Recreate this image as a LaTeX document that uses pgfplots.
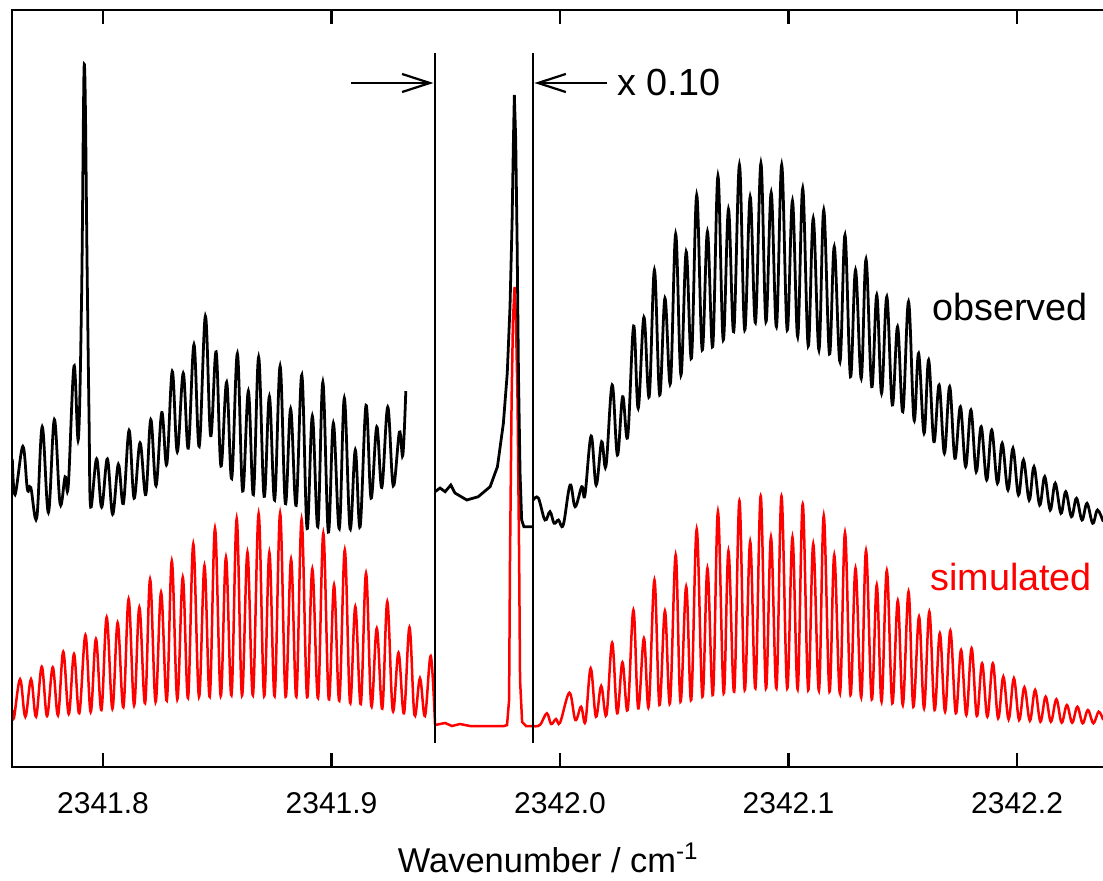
\documentclass[border=0pt]{standalone}
\usepackage{pgfplots}
\pgfplotsset{compat=1.18}
\usepackage{fontspec}
\setmainfont{Liberation Sans}
\usetikzlibrary{arrows.meta}

\begin{document}
\begin{tikzpicture}
% x = wavenumber - 2341 cm^-1 (offset kept out of the data for TeX's precision)
\begin{axis}[
    scale only axis,
    width=392.65pt, height=272.52pt,
    xmin=0.7603, xmax=1.2376,
    ymin=0, ymax=757,
    axis line style={draw=none},
    xtick={0.8,0.9,1.0,1.1,1.2},
    xticklabels={2341.8,2341.9,2342.0,2342.1,2342.2},
    ytick=\empty,
    tick align=inside,
    major tick length=5pt,
    every tick/.style={black, line width=0.8pt},
    xticklabel style={font=\fontsize{10.8}{12}\selectfont, anchor=base, yshift=-16.6pt},
    xlabel={Wavenumber / cm\textsuperscript{-1}},
    xlabel style={font=\fontsize{12.4}{14}\selectfont, at={(axis description cs:0.4916,0)}, anchor=base, yshift=-37.8pt},
]

% simulated, left band
\addplot[red, line width=0.9pt, smooth, tension=0.6] coordinates {
(0.7603,57.0) (0.7610,48.7) (0.7637,87.7) (0.7660,50.3) (0.7685,87.7) (0.7707,50.3)
(0.7732,100.3) (0.7755,51) (0.7780,99.7) (0.7803,51.7) (0.7826,115.3) (0.7850,53)
(0.7873,113) (0.7896,53.7) (0.7923,132) (0.7946,55) (0.7969,128) (0.7993,57)
(0.8016,149.7) (0.8041,58.3) (0.8064,144.3) (0.8089,59.7) (0.8112,168) (0.8136,61.7)
(0.8159,159.7) (0.8184,63.7) (0.8206,187.7) (0.8230,65) (0.8254,174.7) (0.8279,66.3)
(0.8301,206) (0.8325,67.7) (0.8349,189.7) (0.8372,69) (0.8395,223) (0.8420,70.3)
(0.8444,201.3) (0.8467,70.3) (0.8490,238.7) (0.8515,71) (0.8538,209.7) (0.8562,71.7)
(0.8585,248.3) (0.8608,71.7) (0.8632,214.7) (0.8656,71.7) (0.8681,253.3) (0.8705,71)
(0.8728,214.7) (0.8751,71) (0.8775,253.7) (0.8799,70.3) (0.8823,207.7) (0.8846,70.3)
(0.8869,247.7) (0.8893,69.7) (0.8916,198) (0.8941,69) (0.8964,233.7) (0.8988,67.7)
(0.9011,182) (0.9034,66.3) (0.9058,217) (0.9081,64.3) (0.9104,160.3) (0.9128,63)
(0.9151,193.7) (0.9174,61) (0.9198,138.7) (0.9222,58.3) (0.9244,165.3) (0.9268,56.3)
(0.9293,114.3) (0.9317,53.7) (0.9341,139.7) (0.9363,52) (0.9387,88.7) (0.9409,51)
(0.9434,111) (0.9453,42)
};
% simulated, central line
\addplot[red, line width=0.9pt] coordinates {
(0.9453,42) (0.9497,44) (0.9527,41) (0.9562,43) (0.9606,41) (0.9694,41) (0.9755,41)
(0.9768,42) (0.9777,67) (0.9781,207) (0.9788,367) (0.9794,447) (0.9801,480)
(0.9807,447) (0.9814,367) (0.9821,207) (0.9825,87) (0.9834,45) (0.9851,41) (0.9881,41)
};
% simulated, right band
\addplot[red, line width=0.9pt, smooth, tension=0.6] coordinates {
(0.9881,41) (0.9912,42) (0.9942,53.7) (0.9961,43) (0.9982,48) (1.0000,44.3)
(1.0041,74.3) (1.0067,47) (1.0092,60.3) (1.0111,45.3) (1.0134,98.7) (1.0157,50.3)
(1.0180,81) (1.0203,52) (1.0228,124.3) (1.0250,53.7) (1.0273,104.7) (1.0296,57)
(1.0321,157) (1.0342,58.7) (1.0367,128.7) (1.0388,60.3) (1.0413,187) (1.0435,62)
(1.0459,156) (1.0481,63.7) (1.0506,212) (1.0527,65.3) (1.0552,180.3) (1.0574,67)
(1.0598,237.7) (1.0623,70.3) (1.0645,198.7) (1.0669,72) (1.0691,255.3) (1.0716,73.7)
(1.0737,216) (1.0762,75.3) (1.0785,266.3) (1.0808,77) (1.0832,225.3) (1.0855,78.7)
(1.0878,271) (1.0901,78.7) (1.0923,229.7) (1.0947,78.7) (1.0969,271) (1.0994,78.7)
(1.1017,229.7) (1.1040,77.7) (1.1062,263) (1.1086,77) (1.1108,223) (1.1133,76.3)
(1.1154,251.3) (1.1179,75.3) (1.1200,212) (1.1225,73.7) (1.1247,234.3) (1.1271,72)
(1.1293,198.7) (1.1318,69.7) (1.1339,216.3) (1.1364,67.7) (1.1386,182) (1.1407,65.3)
(1.1430,196.3) (1.1454,63.7) (1.1478,166.3) (1.1500,62) (1.1525,175.3) (1.1546,60.3)
(1.1571,150.3) (1.1593,58.7) (1.1616,155.3) (1.1639,57) (1.1662,133.7) (1.1685,55.3)
(1.1708,136.3) (1.1732,53.7) (1.1755,117) (1.1778,52) (1.1801,118.7) (1.1824,51)
(1.1847,103.7) (1.1870,50.3) (1.1894,103.7) (1.1917,48.7) (1.1940,90.3) (1.1963,47.7)
(1.1986,88.7) (1.2009,47) (1.2032,79.7) (1.2056,46.3) (1.2079,77) (1.2102,45.3)
(1.2125,70.3) (1.2148,45.3) (1.2172,67.7) (1.2195,44.3) (1.2218,62) (1.2241,44.3)
(1.2264,60.3) (1.2287,43.7) (1.2310,57) (1.2334,43.7) (1.2357,55.3) (1.2377,47)
};

% observed, left band
\addplot[black, line width=1pt, smooth, tension=0.6] coordinates {
(0.7603,308.1) (0.7615,272.4) (0.7649,320.6) (0.7669,277.7) (0.7684,279.5) (0.7710,249.1)
(0.7734,340.2) (0.7761,254.5) (0.7787,347.4) (0.7812,263.4) (0.7834,290.2) (0.7848,281.3)
(0.7873,400.9) (0.7892,327.7) (0.7906,467) (0.7914,647) (0.7918,702.7) (0.7923,657)
(0.7930,507) (0.7939,347) (0.7946,259.9) (0.7972,308.1) (0.7994,259.9) (0.8019,308.1)
(0.8042,252.7) (0.8067,302.7) (0.8089,263.4) (0.8114,336.6) (0.8136,268.8) (0.8162,324.1)
(0.8187,272.4) (0.8209,347.4) (0.8232,281.3) (0.8257,354.5) (0.8279,302.7) (0.8303,395.6)
(0.8325,315.2) (0.8351,393.8) (0.8373,318.8) (0.8398,422.4) (0.8421,320.6) (0.8448,450.9)
(0.8471,331.3) (0.8495,415.2) (0.8516,300.9) (0.8541,384.9) (0.8563,288.4) (0.8588,413.4)
(0.8611,275.9) (0.8636,375.9) (0.8658,272.4) (0.8681,409.9) (0.8705,270.6) (0.8728,370.6)
(0.8751,267) (0.8775,400.9) (0.8798,263.4) (0.8821,358.1) (0.8845,261.6) (0.8870,392)
(0.8893,238.4) (0.8916,350.9) (0.8940,240.2) (0.8962,384.9) (0.8986,234.9) (0.9008,343.8)
(0.9034,238.4) (0.9056,368.8) (0.9081,238.4) (0.9104,317) (0.9125,240.2) (0.9151,361.6)
(0.9173,268.8) (0.9198,340.2) (0.9220,279.5) (0.9246,359.9) (0.9270,281.3) (0.9297,334.9)
(0.9312,311.6) (0.9325,375.9)
};
% observed x 0.10, central line
\addplot[black, line width=1pt] coordinates {
(0.9453,275.3) (0.9475,279) (0.9497,275.3) (0.9522,282) (0.9540,274) (0.9592,267)
(0.9642,270.3) (0.9694,280.3) (0.9726,300.3) (0.9752,343.7) (0.9769,394) (0.9781,460.3)
(0.9790,544) (0.9796,627) (0.9800,672) (0.9806,627) (0.9812,527) (0.9818,394)
(0.9825,294) (0.9832,247) (0.9842,240.3) (0.9881,240.3)
};
% observed, right band
\addplot[black, line width=1pt, smooth, tension=0.6] coordinates {
(0.9883,267) (0.9905,269) (0.9934,247) (0.9956,255.3) (0.9974,243.7) (0.9993,247)
(1.0014,242) (1.0044,282) (1.0066,260.3) (1.0095,280.3) (1.0109,272) (1.0136,331)
(1.0158,282) (1.0182,325.3) (1.0201,301) (1.0228,382) (1.0251,312) (1.0274,370.3)
(1.0296,330.3) (1.0322,441) (1.0342,358.7) (1.0367,449.7) (1.0390,370.3) (1.0413,497)
(1.0436,372) (1.0459,468.7) (1.0483,383.7) (1.0506,533) (1.0529,392) (1.0552,515.3)
(1.0575,408.7) (1.0598,572) (1.0622,417) (1.0645,535.3) (1.0668,420.3) (1.0691,591)
(1.0714,427) (1.0737,557.7) (1.0760,435.3) (1.0785,602) (1.0808,437) (1.0832,570.3)
(1.0855,444.3) (1.0879,603.7) (1.0901,445.3) (1.0924,574.3) (1.0947,440.3) (1.0970,602)
(1.0994,437) (1.1017,566.3) (1.1040,430.3) (1.1062,578.7) (1.1086,421) (1.1108,548.7)
(1.1133,417) (1.1154,557) (1.1179,413) (1.1200,520.3) (1.1225,405.3) (1.1247,532)
(1.1271,390.3) (1.1293,497) (1.1318,388.7) (1.1339,507.7) (1.1364,380.3) (1.1386,472)
(1.1407,373.7) (1.1430,470.3) (1.1454,362) (1.1477,440.3) (1.1500,355.3) (1.1525,465.3)
(1.1549,347) (1.1569,413.7) (1.1593,333.7) (1.1613,407) (1.1636,325.3) (1.1659,382)
(1.1682,313.7) (1.1705,380.3) (1.1728,308.7) (1.1752,360.3) (1.1775,300.3) (1.1798,357)
(1.1821,295.3) (1.1843,340.3) (1.1867,287) (1.1889,337) (1.1914,283.7) (1.1935,323.7)
(1.1960,277) (1.1982,318.7) (1.2006,272) (1.2028,307) (1.2053,267) (1.2074,300.3)
(1.2099,262) (1.2121,290.3) (1.2145,257) (1.2167,283.7) (1.2192,253.7) (1.2213,275.3)
(1.2238,250.3) (1.2260,268.7) (1.2284,247) (1.2306,263.7) (1.2331,243.7) (1.2352,257)
(1.2377,245.3)
};

% markers of the scaled region
\addplot[black, line width=0.8pt] coordinates {(0.9453,24) (0.9453,714)};
\addplot[black, line width=0.8pt] coordinates {(0.9881,24) (0.9881,714)};
\draw[-{Straight Barb[length=10pt,width=6.5pt]}, line width=0.8pt] (axis cs:0.9085,684) -- (axis cs:0.9446,684);
\draw[-{Straight Barb[length=10pt,width=6.5pt]}, line width=0.8pt] (axis cs:1.0206,684) -- (axis cs:0.9888,684);
\node[anchor=west, inner sep=0pt, font=\fontsize{13.6}{16}\selectfont] at (axis cs:1.0249,685) {x 0.10};

\node[anchor=base, inner sep=0pt, font=\fontsize{13.6}{16}\selectfont] at (axis cs:1.1969,447) {observed};
\node[anchor=base, inner sep=0pt, red, font=\fontsize{13.6}{16}\selectfont] at (axis cs:1.1974,177) {simulated};
\end{axis}
% frame open on the right, as cropped in the original
\draw[line width=0.8pt] (current axis.south east) -- (current axis.south west)
    -- (current axis.north west) -- (current axis.north east);
\pgfresetboundingbox
\path[use as bounding box] ([shift={(-4.43pt,-40.68pt)}]current axis.south west)
    rectangle ([shift={(0pt,3.6pt)}]current axis.north east);
\end{tikzpicture}
\end{document}
